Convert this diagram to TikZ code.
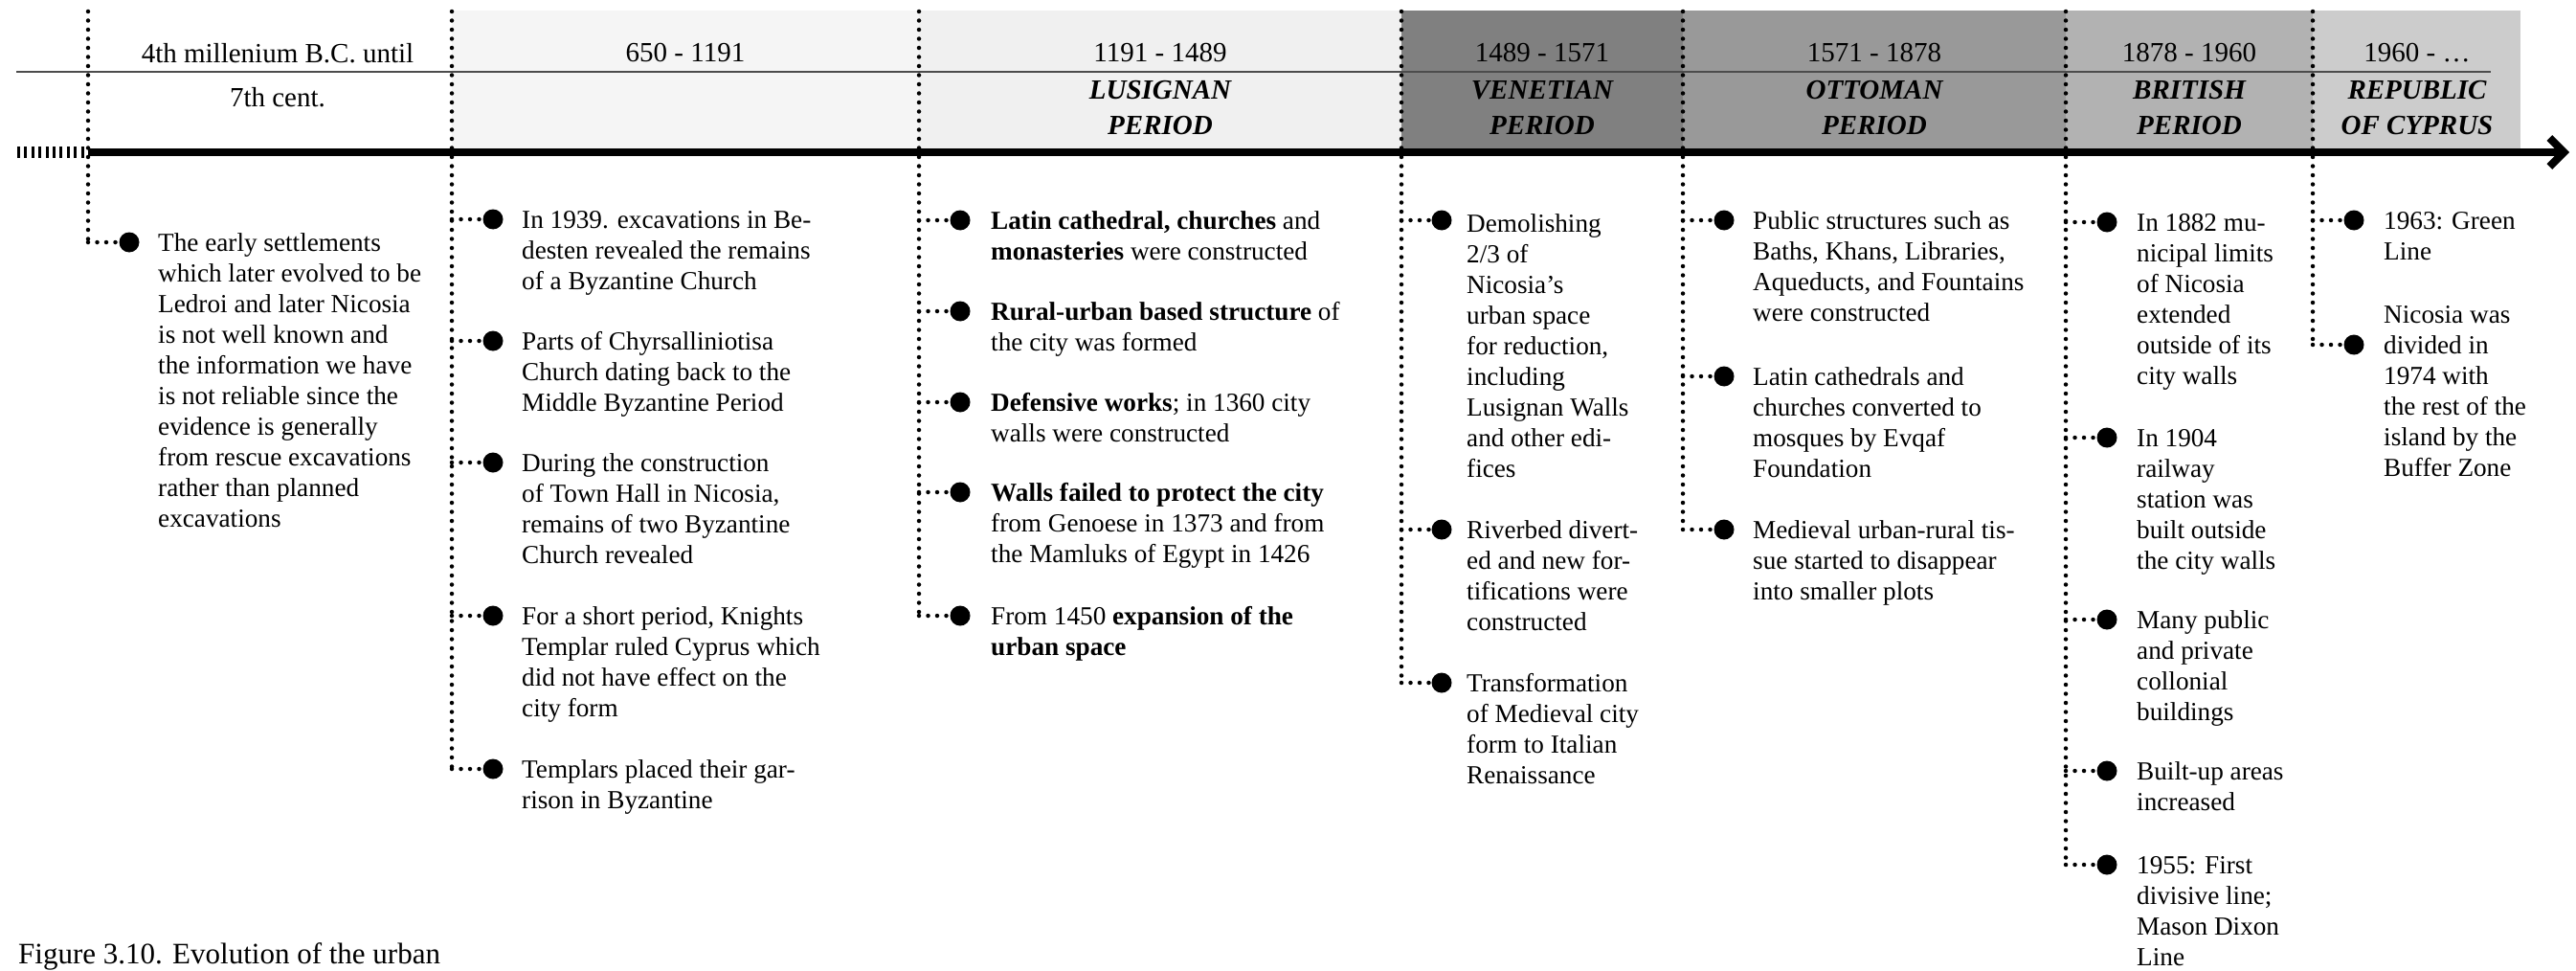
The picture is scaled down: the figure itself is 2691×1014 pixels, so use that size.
\documentclass[tikz,border=0pt]{standalone}
\usepackage{fontspec}
\setmainfont{Liberation Serif}
\usetikzlibrary{arrows.meta}

% band shades of the periods
\definecolor{bandByz}{HTML}{F5F5F5}
\definecolor{bandLus}{HTML}{F0F0F0}
\definecolor{bandVen}{HTML}{808080}
\definecolor{bandOtt}{HTML}{999999}
\definecolor{bandBri}{HTML}{B2B2B2}
\definecolor{bandRep}{HTML}{CCCCCC}

\newcommand\itemfont{\fontsize{27.2}{32}\selectfont}
\newcommand\yearfont{\fontsize{29}{46}\selectfont}
\newcommand\periodfont{\fontsize{29}{37}\selectfont\bfseries\itshape}

\tikzset{
  dotline/.style={line width=4.5pt, line cap=round, dash pattern=on 0pt off 9.5pt},
  bullet/.style={circle, fill=black, minimum size=21pt, inner sep=0pt},
  entry/.style={anchor=north west, inner sep=0pt, align=left, font=\itemfont},
  yearlbl/.style={anchor=base, inner sep=0pt, font=\yearfont},
  periodlbl/.style={anchor=north, inner sep=0pt, align=center, font=\periodfont},
}

\begin{document}
\begin{tikzpicture}[x=1pt, y=-1pt]
\useasboundingbox (0,0) rectangle (2691,1014);

% ---- period bands ----
\fill[bandByz] (472,11) rectangle (960,155);
\fill[bandLus] (960,11) rectangle (1464,155);
\fill[bandVen] (1464,11) rectangle (1758,155);
\fill[bandOtt] (1758,11) rectangle (2158,155);
\fill[bandBri] (2158,11) rectangle (2416,155);
\fill[bandRep] (2416,11) rectangle (2633,155);

% thin rule between dates and period names
\coordinate (ruleL) at (17,75);
\coordinate (ruleR) at (2602,75);
\draw[black!70, line width=1.5pt] (ruleL) -- (ruleR);

% ---- header labels ----
\node[anchor=north, inner sep=0pt, align=center, font=\yearfont] (h1) at (290,32.8)
  {\strut 4th millenium B.C. until\\7th cent.};
\node[yearlbl] (y2) at (716,65) {650 - 1191};
\node[yearlbl] (y3) at (1212,65) {1191 - 1489};
\node[yearlbl] (y4) at (1611,65) {1489 - 1571};
\node[yearlbl] (y5) at (1958,65) {1571 - 1878};
\node[yearlbl] (y6) at (2287,65) {1878 - 1960};
\node[yearlbl] (y7) at (2525,65) {1960 - …};
\node[periodlbl] (p3) at (1212,77.1) {\strut LUSIGNAN\\PERIOD};
\node[periodlbl] (p4) at (1611,77.1) {\strut VENETIAN\\PERIOD};
\node[periodlbl] (p5) at (1958,77.1) {\strut OTTOMAN\\PERIOD};
\node[periodlbl] (p6) at (2287,77.1) {\strut BRITISH\\PERIOD};
\node[periodlbl] (p7) at (2525,77.1) {\strut REPUBLIC\\OF CYPRUS};

% ---- tops of the dotted column lines ----
\coordinate (t1) at (92,12);
\coordinate (t2) at (472,12);
\coordinate (t3) at (960,12);
\coordinate (t4) at (1464,12);
\coordinate (t5) at (1758,12);
\coordinate (t6) at (2158,12);
\coordinate (t7) at (2416,12);

% ---- bullets ----
\node[bullet] (b11) at (135,253) {};
\node[bullet] (b21) at (515,229) {};
\node[bullet] (b22) at (515,356) {};
\node[bullet] (b23) at (515,483) {};
\node[bullet] (b24) at (515,643) {};
\node[bullet] (b25) at (515,803) {};
\node[bullet] (b31) at (1003,230) {};
\node[bullet] (b32) at (1003,325) {};
\node[bullet] (b33) at (1003,420) {};
\node[bullet] (b34) at (1003,514) {};
\node[bullet] (b35) at (1003,643) {};
\node[bullet] (b41) at (1506,230) {};
\node[bullet] (b42) at (1506,553) {};
\node[bullet] (b43) at (1506,713) {};
\node[bullet] (b51) at (1801,230) {};
\node[bullet] (b52) at (1801,393) {};
\node[bullet] (b53) at (1801,553) {};
\node[bullet] (b61) at (2201,232) {};
\node[bullet] (b62) at (2201,457) {};
\node[bullet] (b63) at (2201,647) {};
\node[bullet] (b64) at (2201,805) {};
\node[bullet] (b65) at (2201,903) {};
\node[bullet] (b71) at (2459,230) {};
\node[bullet] (b72) at (2459,360) {};

% ---- dotted column lines and stubs ----
\draw[dotline] (t1) -- (t1 |- b11);
\draw[dotline] (t2) -- (t2 |- b25);
\draw[dotline] (t3) -- (t3 |- b35);
\draw[dotline] (t4) -- (t4 |- b43);
\draw[dotline] (t5) -- (t5 |- b53);
\draw[dotline] (t6) -- (t6 |- b65);
\draw[dotline] (t7) -- (t7 |- b72);
\foreach \c/\b in {1/11, 2/21, 2/22, 2/23, 2/24, 2/25, 3/31, 3/32, 3/33, 3/34, 3/35,
                   4/41, 4/42, 4/43, 5/51, 5/52, 5/53, 6/61, 6/62, 6/63, 6/64, 6/65,
                   7/71, 7/72}
  \draw[dotline] (t\c |- b\b) -- (b\b);

% ---- time axis ----
\coordinate (hatchL) at (18,159);
\coordinate (hatchR) at (89,159);
\draw[line width=12pt, dash pattern=on 3pt off 4.4pt] (hatchL) -- (hatchR);
\coordinate (axisL) at (92,159);
\coordinate (axisR) at (2684,159);
\draw[line width=8pt, -{Straight Barb[length=15pt, width=30pt]}] (axisL) -- (axisR);

% ---- entries ----
\node[entry] (e11) at (165,239.6) {\strut The early settlements\\which later evolved to be\\Ledroi and later Nicosia\\is not well known and\\the information we have\\is not reliable since the\\evidence is generally\\from rescue excavations\\rather than planned\\excavations};

\node[entry] (e21) at (545,215.6) {\strut In 1939. excavations in Be-\\desten revealed the remains\\of a Byzantine Church};
\node[entry] (e22) at (545,342.6) {\strut Parts of Chyrsalliniotisa\\Church dating back to the\\Middle Byzantine Period};
\node[entry] (e23) at (545,469.6) {\strut During the construction\\of Town Hall in Nicosia,\\remains of two Byzantine\\Church revealed};
\node[entry] (e24) at (545,629.6) {\strut For a short period, Knights\\Templar ruled Cyprus which\\did not have effect on the\\city form};
\node[entry] (e25) at (545,789.6) {\strut Templars placed their gar-\\rison in Byzantine};

\node[entry] (e31) at (1035,216.6) {\strut \textbf{Latin cathedral, churches} and\\\textbf{monasteries} were constructed};
\node[entry] (e32) at (1035,311.6) {\strut \textbf{Rural-urban based structure} of\\the city was formed};
\node[entry] (e33) at (1035,406.6) {\strut \textbf{Defensive works}; in 1360 city\\walls were constructed};
\node[entry] (e34) at (1035,500.6) {\strut \textbf{Walls failed to protect the city}\\from Genoese in 1373 and from\\the Mamluks of Egypt in 1426};
\node[entry] (e35) at (1035,629.6) {\strut From 1450 \textbf{expansion of the}\\\textbf{urban space}};

\node[entry] (e41) at (1532,219.6) {\strut Demolishing\\2/3 of\\Nicosia’s\\urban space\\for reduction,\\including\\Lusignan Walls\\and other edi-\\fices};
\node[entry] (e42) at (1532,539.6) {\strut Riverbed divert-\\ed and new for-\\tifications were\\constructed};
\node[entry] (e43) at (1532,699.6) {\strut Transformation\\of Medieval city\\form to Italian\\Renaissance};

\node[entry] (e51) at (1831,216.6) {\strut Public structures such as\\Baths, Khans, Libraries,\\Aqueducts, and Fountains\\were constructed};
\node[entry] (e52) at (1831,379.6) {\strut Latin cathedrals and\\churches converted to\\mosques by Evqaf\\Foundation};
\node[entry] (e53) at (1831,539.6) {\strut Medieval urban-rural tis-\\sue started to disappear\\into smaller plots};

\node[entry] (e61) at (2232,218.6) {\strut In 1882 mu-\\nicipal limits\\of Nicosia\\extended\\outside of its\\city walls};
\node[entry] (e62) at (2232,443.6) {\strut In 1904\\railway\\station was\\built outside\\the city walls};
\node[entry] (e63) at (2232,633.6) {\strut Many public\\and private\\collonial\\buildings};
\node[entry] (e64) at (2232,791.6) {\strut Built-up areas\\increased};
\node[entry] (e65) at (2232,889.6) {\strut 1955: First\\divisive line;\\Mason Dixon\\Line};

\node[entry] (e71) at (2490,216.6) {\strut 1963: Green\\Line};
\node[entry] (e72) at (2490,314.6) {\strut Nicosia was\\divided in\\1974 with\\the rest of the\\island by the\\Buffer Zone};

% ---- caption ----
\node[anchor=base west, inner sep=0pt, font=\fontsize{31}{36}\selectfont] (cap) at (19,1006)
  {Figure 3.10. Evolution of the urban};
\end{tikzpicture}
\end{document}
